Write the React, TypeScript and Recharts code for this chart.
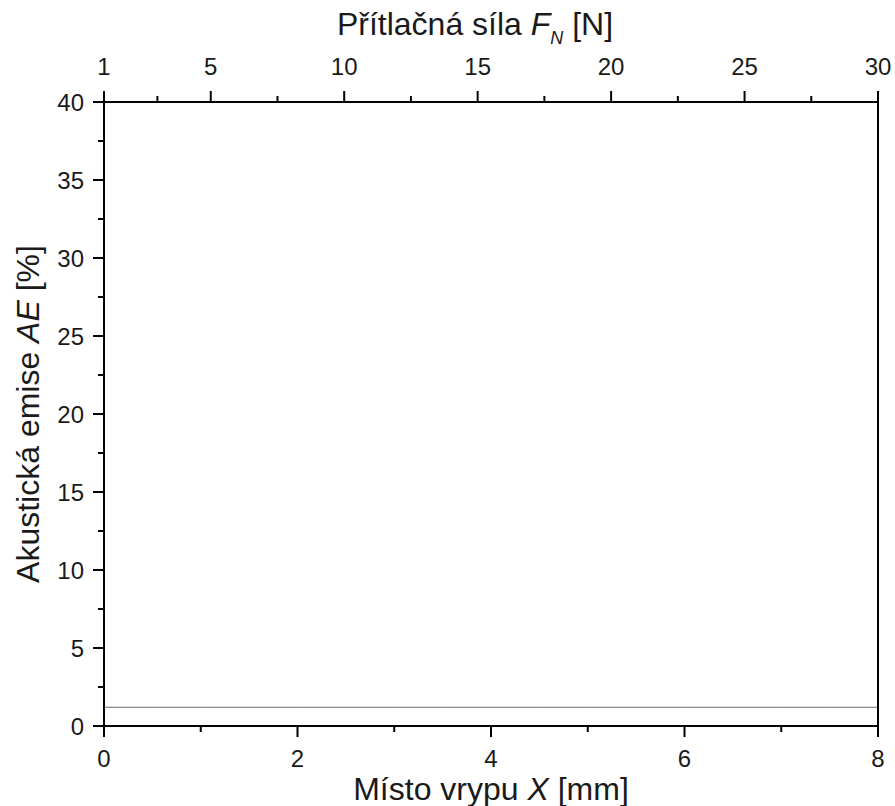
import React from 'react';
import { LineChart, Line, XAxis, YAxis } from 'recharts';

// Místo vrypu X [mm] vs. akustická emise AE [%]
const positions = [0, 0.5, 1, 1.5, 2, 2.5, 3, 3.5, 4, 4.5, 5, 5.5, 6, 6.5, 7, 7.5, 8];
const aeValues = [1.2, 1.2, 1.2, 1.2, 1.2, 1.2, 1.2, 1.2, 1.2, 1.2, 1.2, 1.2, 1.2, 1.2, 1.2, 1.2, 1.2];

const bottomTicks = [0, 1, 2, 3, 4, 5, 6, 7, 8];
const bottomMajor = [0, 2, 4, 6, 8];
const topTicks = [1, 3, 5, 7.5, 10, 12.5, 15, 17.5, 20, 22.5, 25, 27.5, 30];
const topMajor = [1, 5, 10, 15, 20, 25, 30];
const leftTicks = [0, 2.5, 5, 7.5, 10, 12.5, 15, 17.5, 20, 22.5, 25, 27.5, 30, 32.5, 35, 37.5, 40];
const leftMajor = [0, 5, 10, 15, 20, 25, 30, 35, 40];

const data = positions.map((x, i) => ({ x, ae: aeValues[i] }));

const FONT = '"Liberation Sans", Arial, sans-serif';
const INK = '#1a1a1a';
const MAJOR = 11;
const MINOR = 6;
const TICK_FONT = 24;
const TITLE_FONT = 32;

const makeTick = (side: 'top' | 'bottom' | 'left', major: number[]) => (props: any) => {
  const { x, y, payload } = props;
  const v = payload.value;
  const isMajor = major.includes(v);
  const len = isMajor ? MAJOR : MINOR;
  if (side === 'left') {
    return (
      <g>
        <line x1={x} x2={x - len} y1={y} y2={y} stroke="#000" strokeWidth={2} />
        {isMajor && (
          <text x={x - 20} y={y} textAnchor="end" dominantBaseline="central" fontSize={TICK_FONT} fontFamily={FONT} fill={INK}>
            {v}
          </text>
        )}
      </g>
    );
  }
  const dir = side === 'top' ? -1 : 1;
  const off = side === 'top' ? 36 : 32;
  return (
    <g>
      <line x1={x} x2={x} y1={y} y2={y + dir * len} stroke="#000" strokeWidth={2} />
      {isMajor && (
        <text x={x} y={y + dir * off} textAnchor="middle" dominantBaseline="central" fontSize={TICK_FONT} fontFamily={FONT} fill={INK}>
          {v}
        </text>
      )}
    </g>
  );
};

const TopTitle = ({ viewBox }: any) => {
  const cx = viewBox.x + viewBox.width / 2 - 16;
  return (
    <text x={cx} y={35} textAnchor="middle" fontSize={TITLE_FONT} fontFamily={FONT} fill={INK}>
      Přítlačná síla <tspan fontStyle="italic">F</tspan>
      <tspan fontStyle="italic" fontSize={18} dy={9}>N</tspan>
      <tspan dy={-9}> [N]</tspan>
    </text>
  );
};

const BottomTitle = ({ viewBox }: any) => {
  const cx = viewBox.x + viewBox.width / 2;
  return (
    <text x={cx} y={800} textAnchor="middle" fontSize={TITLE_FONT} fontFamily={FONT} fill={INK}>
      Místo vrypu <tspan fontStyle="italic">X</tspan> [mm]
    </text>
  );
};

const LeftTitle = ({ viewBox }: any) => {
  const cy = viewBox.y + viewBox.height / 2;
  return (
    <text x={39} y={cy} transform={`rotate(-90 39 ${cy})`} textAnchor="middle" fontSize={TITLE_FONT} fontFamily={FONT} fill={INK}>
      Akustická emise <tspan fontStyle="italic">AE</tspan> [%]
    </text>
  );
};

export default function App() {
  return (
    <div style={{ position: 'absolute', left: 0, top: 0, background: '#fff' }}>
      <LineChart width={895} height={806} data={data} margin={{ top: 0, right: 0, bottom: 0, left: 0 }}>
        <XAxis
          xAxisId="bottom"
          dataKey="x"
          type="number"
          domain={[0, 8]}
          ticks={bottomTicks}
          interval={0}
          height={80}
          tickSize={0}
          tickMargin={0}
          tickLine={false}
          axisLine={{ stroke: '#000', strokeWidth: 2 }}
          tick={makeTick('bottom', bottomMajor)}
          label={<BottomTitle />}
        />
        <XAxis
          xAxisId="top"
          dataKey="x"
          orientation="top"
          type="number"
          domain={[1, 30]}
          allowDataOverflow
          ticks={topTicks}
          interval={0}
          height={102}
          tickSize={0}
          tickMargin={0}
          tickLine={false}
          axisLine={{ stroke: '#000', strokeWidth: 2 }}
          tick={makeTick('top', topMajor)}
          label={<TopTitle />}
        />
        <YAxis
          yAxisId="left"
          type="number"
          domain={[0, 40]}
          ticks={leftTicks}
          interval={0}
          width={104}
          tickSize={0}
          tickMargin={0}
          tickLine={false}
          axisLine={{ stroke: '#000', strokeWidth: 2 }}
          tick={makeTick('left', leftMajor)}
          label={<LeftTitle />}
        />
        <YAxis
          yAxisId="right"
          orientation="right"
          type="number"
          domain={[0, 40]}
          width={17}
          tick={false}
          tickLine={false}
          axisLine={{ stroke: '#000', strokeWidth: 2 }}
        />
        <Line
          xAxisId="bottom"
          yAxisId="left"
          dataKey="ae"
          type="linear"
          stroke="#6e6e6e"
          strokeWidth={1}
          dot={false}
          isAnimationActive={false}
        />
      </LineChart>
    </div>
  );
}
